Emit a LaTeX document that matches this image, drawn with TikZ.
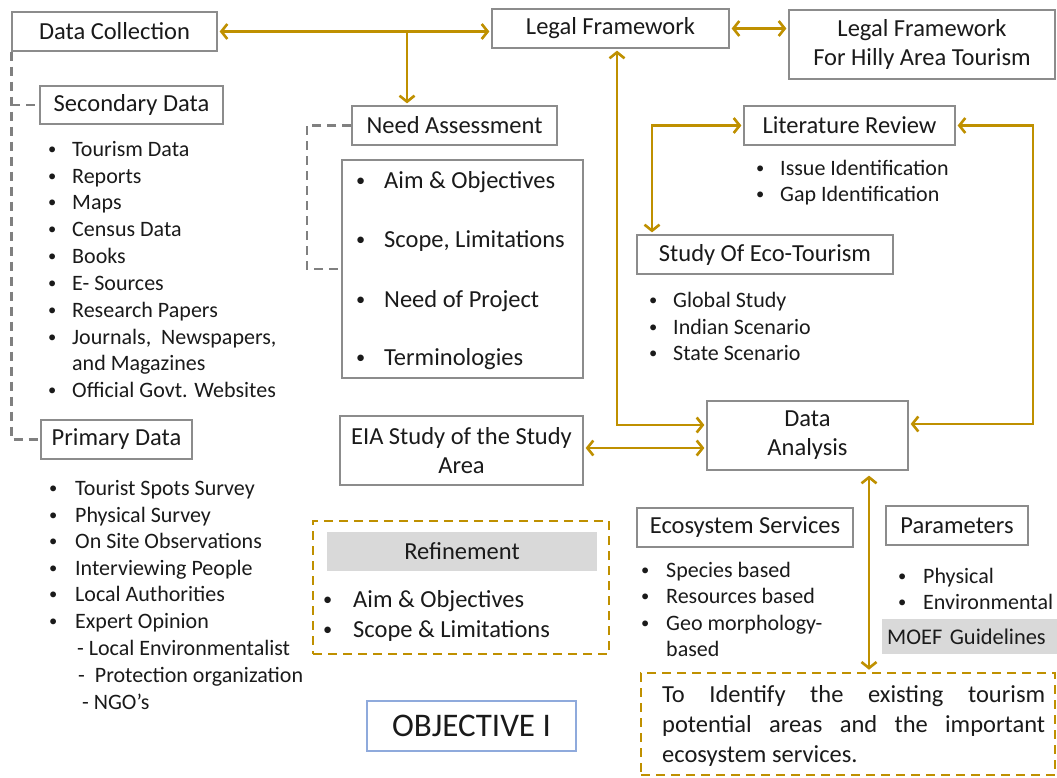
\documentclass[tikz,border=0pt]{standalone}
\usepackage{fontspec}
\setmainfont{Carlito}
\usetikzlibrary{arrows.meta}
\definecolor{gold}{HTML}{BF9000}
\definecolor{bgray}{HTML}{8C8C8C}
\definecolor{dgray}{HTML}{808080}
\definecolor{fgray}{HTML}{D9D9D9}
\definecolor{bblue}{HTML}{8FAADC}
\definecolor{txt}{HTML}{1A1A1A}
\newcommand{\dotb}{\raisebox{0.08em}{\scalebox{0.75}{•}}}
\newcommand{\bul}[6]{%
  \node[#1] (#2b) at (#3,#5) {\dotb};
  \node[#1] (#2) at (#4,#5) {#6};}
\newcommand{\cont}[5]{%
  \node[#1] (#2) at (#3,#4) {#5};}
\begin{document}
\begin{tikzpicture}[x=1pt,y=-1pt,
  box/.style={draw=bgray, line width=1.3pt, fill=white, inner sep=0pt, text=txt,
    font=\fontsize{24.5}{29}\selectfont, align=center},
  li/.style={inner sep=0pt, text=txt, font=\fontsize{22}{26}\selectfont, yshift=-7pt, anchor=base west},
  lib/.style={inner sep=0pt, text=txt, font=\fontsize{24.5}{29}\selectfont, yshift=-8pt, anchor=base west},
  arr/.style={draw=gold, line width=2.6pt, shorten >=2pt, -{Straight Barb[length=6pt,width=15pt]}},
  darr/.style={draw=gold, line width=2.6pt, shorten >=2pt, shorten <=2pt,
    {Straight Barb[length=6pt,width=15pt]}-{Straight Barb[length=6pt,width=15pt]}},
  dg/.style={draw=dgray, line width=2.4pt, dash pattern=on 9pt off 6pt},
  gdash/.style={draw=gold, line width=2.6pt, dash pattern=on 9pt off 6pt, inner sep=0pt}]
\useasboundingbox (0,0) rectangle (1057,777);

% ---- boxes ----
\node[box, minimum width=205pt, minimum height=39pt] (DC) at (114.5,31.5) {Data Collection};
\node[box, minimum width=237pt, minimum height=39pt] (LF) at (610.5,28.5) {Legal Framework};
\node[box, minimum width=266pt, minimum height=69pt] (LFH) at (922,44.5) {Legal Framework\\For Hilly Area Tourism};
\node[box, minimum width=183pt, minimum height=38pt] (SD) at (131.5,105) {Secondary Data};
\node[box, minimum width=151pt, minimum height=39pt] (PD) at (116.5,439.5) {Primary Data};
\node[box, minimum width=205pt, minimum height=39pt] (NA) at (454.5,125.5) {Need Assessment};
\node[box, minimum width=241pt, minimum height=218pt] (NI) at (462.5,269) {};
\node[box, minimum width=211pt, minimum height=39pt] (LR) at (849.5,125.5) {Literature Review};
\node[box, minimum width=256pt, minimum height=39pt] (SOET) at (765,254.5) {Study Of Eco-Tourism};
\node[box, minimum width=243pt, minimum height=69pt] (EIA) at (461.5,450.5) {EIA Study of the Study\\Area};
\node[box, minimum width=201pt, minimum height=69pt] (DA) at (807.5,435.5) {Data\\Analysis};
\node[box, minimum width=216pt, minimum height=39pt] (ES) at (745,527.5) {Ecosystem Services};
\node[box, minimum width=142pt, minimum height=39pt] (PAR) at (957,525.5) {Parameters};
\node[fill=fgray, minimum width=175pt, minimum height=35pt, inner xsep=5pt, inner ysep=0pt,
  text width=165pt, align=left, anchor=west, text=txt, font=\fontsize{22.4}{26}\selectfont] (MOEF) at (882,636.5) {MOEF Guidelines};
\node[gdash, minimum width=296pt, minimum height=133pt] (REF) at (461,587.5) {};
\node[fill=fgray, minimum width=270pt, minimum height=39pt, inner sep=0pt, text=txt,
  font=\fontsize{24.5}{29}\selectfont] (REFH) at (462,551.5) {Refinement};
\node[gdash, minimum width=414pt, minimum height=102pt] (OBJ) at (848,724) {};
\node[draw=bblue, line width=1.3pt, minimum width=209pt, minimum height=50pt, inner sep=0pt,
  text=txt, font=\fontsize{33}{38}\selectfont] (OBJI) at (471.5,726) {OBJECTIVE I};

% ---- lists ----
\bul{li}{s1}{48}{72}{149}{Tourism Data}
\bul{li}{s2}{48}{72}{176}{Reports}
\bul{li}{s3}{48}{72}{202}{Maps}
\bul{li}{s4}{48}{72}{229}{Census Data}
\bul{li}{s5}{48}{72}{256}{Books}
\bul{li}{s6}{48}{72}{283}{E- Sources}
\bul{li}{s7}{48}{72}{310}{Research Papers}
\bul{li}{s8}{48}{72}{337}{Journals,\ \ Newspapers,}
\cont{li}{s9}{72}{363}{and Magazines}
\bul{li}{s10}{48}{72}{390}{Official Govt. Websites}

\bul{li}{p1}{49}{75}{488}{Tourist Spots Survey}
\bul{li}{p2}{49}{75}{515}{Physical Survey}
\bul{li}{p3}{49}{75}{541}{On Site Observations}
\bul{li}{p4}{49}{75}{568}{Interviewing People}
\bul{li}{p5}{49}{75}{594}{Local Authorities}
\bul{li}{p6}{49}{75}{621}{Expert Opinion}
\cont{li}{p7}{77}{648}{- Local Environmentalist}
\cont{li}{p8}{78}{675}{-\ \ Protection organization}
\cont{li}{p9}{82}{702}{- NGO’s}

\bul{lib}{n1}{356}{384}{180}{Aim \& Objectives}
\bul{lib}{n2}{356}{384}{239}{Scope, Limitations}
\bul{lib}{n3}{356}{384}{299}{Need of Project}
\bul{lib}{n4}{356}{384}{357}{Terminologies}

\bul{li}{l1}{756}{780}{168}{Issue Identification}
\bul{li}{l2}{756}{780}{194}{Gap Identification}

\bul{li}{e1}{649}{673}{300}{Global Study}
\bul{li}{e2}{649}{673}{327}{Indian Scenario}
\bul{li}{e3}{649}{673}{353}{State Scenario}

\bul{li}{es1}{641}{666}{570}{Species based}
\bul{li}{es2}{641}{666}{596}{Resources based}
\bul{li}{es3}{641}{666}{623}{Geo morphology-}
\cont{li}{es4}{666}{649}{based}

\bul{li}{pa1}{898}{923}{576}{Physical}
\bul{li}{pa2}{898}{923}{602}{Environmental}

\bul{lib}{r1}{323}{353}{599}{Aim \& Objectives}
\bul{lib}{r2}{323}{353}{629}{Scope \& Limitations}

\node[lib] (o1) at (662,694) {\makebox[383pt][s]{To Identify the existing tourism}};
\node[lib] (o2) at (662,724) {\makebox[383pt][s]{potential areas and the important}};
\node[lib] (o3) at (662,754) {ecosystem services.};

% ---- connectors ----
\draw[darr] (DC.east) -- (DC.east -| LF.west);
\coordinate (j1) at (407,31.5);
\draw[arr] (j1) -- (j1 |- NA.north);
\draw[darr] (LF.east) -- (LF.east -| LFH.west);
\coordinate (c1) at (617,425);
\draw[darr] (c1 |- LF.south) -- (c1) -- (c1 -| DA.west);
\coordinate (c6) at (0,448);
\draw[darr] (EIA.east |- c6) -- (DA.west |- c6);
\coordinate (c2) at (1033,424);
\draw[darr] (c2 -| DA.east) -- (c2) -- (c2 |- LR.east) -- (LR.east);
\coordinate (c3) at (652,125.5);
\draw[darr] (LR.west) -- (c3) -- (c3 |- SOET.north);
\coordinate (c4) at (869,0);
\draw[darr, shorten <=5pt] (c4 |- DA.south) -- (c4 |- OBJ.north);

\draw[dg] (DC.south west) -- (DC.south west |- PD.west) -- (PD.west);
\draw[dg] (DC.south west |- SD.west) -- (SD.west);
\coordinate (c5) at (307,0);
\draw[dg] (NA.west) -- (NA.west -| c5) -- (c5 |- NI.west) -- (NI.west);
\end{tikzpicture}
\end{document}
